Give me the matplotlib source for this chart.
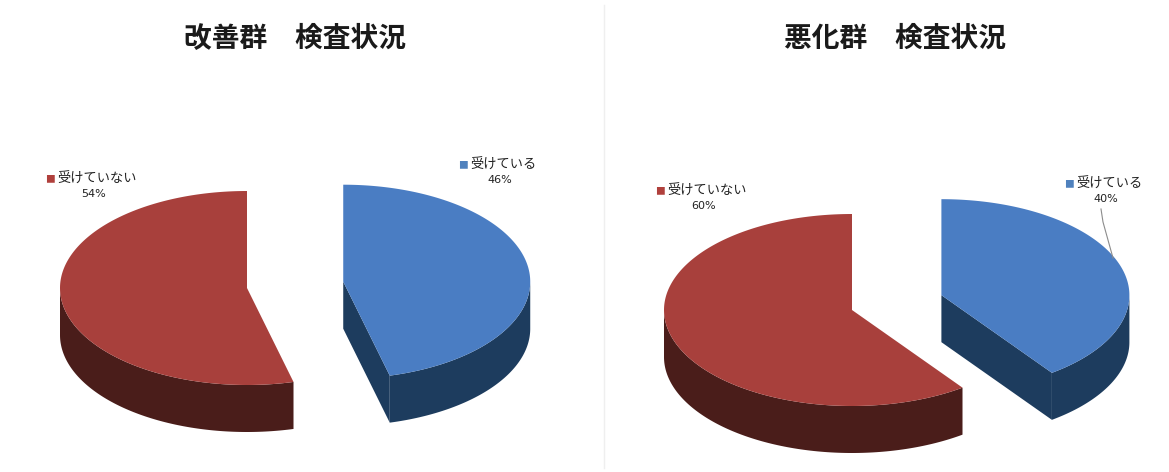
import numpy as np
import matplotlib
matplotlib.use('Agg')
import matplotlib.pyplot as plt
from matplotlib.patches import Polygon

plt.rcParams['font.family'] = ['Noto Sans CJK JP', 'DejaVu Sans']

# data
categories = ['受けている', '受けていない']
kaizen = [46, 54]
akka = [40, 60]
titles = ['改善群　検査状況', '悪化群　検査状況']

top_colors = ['#4A7DC3', '#A8403C']
side_colors = ['#1D3C5E', '#4A1D1A']
label_colors = ['#4F81BD', '#B0403C']


def pt(cx, cy, rx, ry, t):
    return cx + rx * np.cos(t), cy - ry * np.sin(t)


def pie3d(ax, values, cx, cy, rx, ry, depth, explode):
    total = float(sum(values))
    # blue (first) goes clockwise from 12 o'clock, red counter-clockwise
    fr_blue = values[0] / total * 360
    spans = [(90 - fr_blue, 90.0), (90.0, 90 - fr_blue + 360)]
    offs = [explode, 0]
    for i, (a0, a1) in enumerate(spans):
        mid = np.radians((a0 + a1) / 2)
        ox, oy = pt(0, 0, offs[i], offs[i] * ry / rx, mid)
        x0, y0 = cx + ox, cy + oy
        t0, t1 = np.radians(a0), np.radians(a1)

        # radial walls facing the viewer
        for t, sgn in ((t0, -1), (t1, 1)):
            nrm = t + sgn * np.pi / 2
            if np.sin(nrm) < -1e-6:
                ex, ey = pt(x0, y0, rx, ry, t)
                ax.add_patch(Polygon([(x0, y0), (ex, ey), (ex, ey + depth), (x0, y0 + depth)],
                                     closed=True, fc=side_colors[i], ec='none', zorder=2))

        # outer front wall
        for base in (-360, 0, 360):
            s = max(a0, 180 + base)
            e = min(a1, 360 + base)
            if e > s:
                tt = np.radians(np.linspace(s, e, 120))
                xs, ys = pt(x0, y0, rx, ry, tt)
                verts = list(zip(xs, ys)) + list(zip(xs[::-1], ys[::-1] + depth))
                ax.add_patch(Polygon(verts, closed=True, fc=side_colors[i], ec='none', zorder=3))

        # top face
        tt = np.linspace(t0, t1, 200)
        xs, ys = pt(x0, y0, rx, ry, tt)
        verts = [(x0, y0)] + list(zip(xs, ys))
        ax.add_patch(Polygon(verts, closed=True, fc=top_colors[i], ec='none', zorder=4))


fig = plt.figure(figsize=(11.69, 4.72), dpi=100)
ax = fig.add_axes([0, 0, 1, 1])
ax.set_xlim(0, 1169)
ax.set_ylim(472, 0)
ax.axis('off')

# faint chart-area borders
ax.plot([604, 604], [5, 468], color='#EFEFEF', lw=1, zorder=0)

pie3d(ax, kaizen, 247, 288, 187, 97, 47, 97)
pie3d(ax, akka, 852, 310, 188, 96, 47, 94)

ax.text(295, 39, titles[0], ha='center', va='center', fontsize=20, fontweight='bold', color='#1A1A1A')
ax.text(895, 39, titles[1], ha='center', va='center', fontsize=20, fontweight='bold', color='#1A1A1A')


def label(x, y, i, val):
    ax.text(x, y, '■', color=label_colors[i], fontsize=7, ha='left', va='center')
    ax.text(x + 12, y, categories[i], color='#222222', fontsize=9.5, ha='left', va='center')
    ax.text(x + 8 + len(categories[i]) * 6.7, y + 15, f'{val}%', color='#222222', fontsize=8,
            ha='center', va='center', family='DejaVu Sans')


label(45, 179, 1, kaizen[1])
label(458, 165, 0, kaizen[0])
label(655, 191, 1, akka[1])
label(1064, 184, 0, akka[0])
ax.plot([1101, 1103, 1113], [209, 222, 258], color='#8C8C8C', lw=0.8, zorder=5)

fig.savefig('out.png', dpi=100)
